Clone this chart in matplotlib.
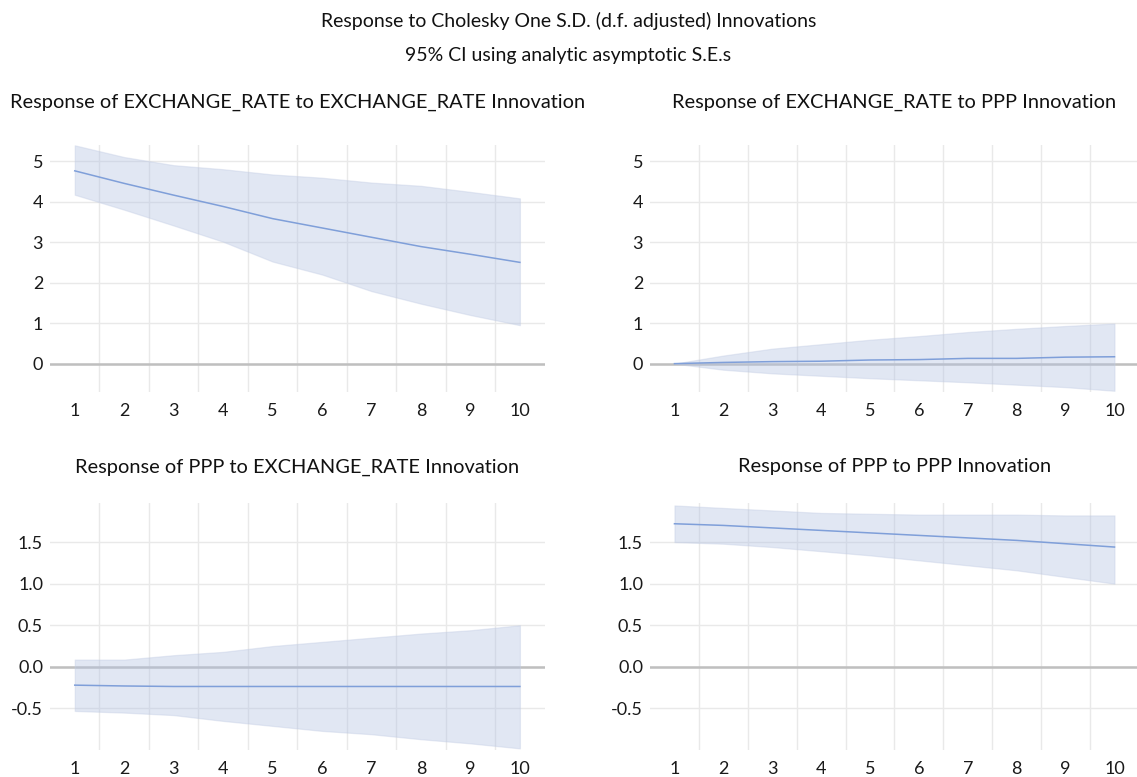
import matplotlib
matplotlib.use("Agg")
import matplotlib.pyplot as plt

plt.rcParams['font.family'] = ['Lato', 'DejaVu Sans']

# periods
periods = [1, 2, 3, 4, 5, 6, 7, 8, 9, 10]

# EXCHANGE_RATE to EXCHANGE_RATE
er_er = [4.76, 4.45, 4.16, 3.88, 3.58, 3.35, 3.12, 2.89, 2.70, 2.50]
er_er_hi = [5.39, 5.10, 4.90, 4.80, 4.67, 4.59, 4.47, 4.39, 4.24, 4.08]
er_er_lo = [4.17, 3.80, 3.41, 3.01, 2.52, 2.20, 1.79, 1.48, 1.20, 0.95]

# EXCHANGE_RATE to PPP
er_ppp = [0.0, 0.03, 0.05, 0.06, 0.09, 0.10, 0.13, 0.13, 0.16, 0.17]
er_ppp_hi = [0.0, 0.20, 0.37, 0.48, 0.59, 0.68, 0.78, 0.86, 0.93, 0.99]
er_ppp_lo = [0.0, -0.15, -0.24, -0.30, -0.36, -0.41, -0.46, -0.52, -0.58, -0.67]

# PPP to EXCHANGE_RATE
ppp_er = [-0.22, -0.23, -0.236, -0.236, -0.236, -0.236, -0.236, -0.236, -0.236, -0.236]
ppp_er_hi = [0.087, 0.087, 0.14, 0.18, 0.25, 0.30, 0.35, 0.40, 0.44, 0.50]
ppp_er_lo = [-0.53, -0.55, -0.58, -0.65, -0.71, -0.77, -0.81, -0.87, -0.92, -0.98]

# PPP to PPP
ppp_ppp = [1.72, 1.70, 1.67, 1.64, 1.61, 1.58, 1.55, 1.52, 1.48, 1.44]
ppp_ppp_hi = [1.94, 1.91, 1.88, 1.85, 1.84, 1.83, 1.83, 1.83, 1.82, 1.82]
ppp_ppp_lo = [1.50, 1.48, 1.44, 1.39, 1.34, 1.28, 1.22, 1.16, 1.08, 1.00]

top_ticks = [0, 1, 2, 3, 4, 5]
top_labels = ['0', '1', '2', '3', '4', '5']
bot_ticks = [-0.5, 0.0, 0.5, 1.0, 1.5]
bot_labels = ['-0.5', '0.0', '0.5', '1.0', '1.5']

fig = plt.figure(figsize=(11.37, 7.77), dpi=100)

fig.text(0.5, 0.973, 'Response to Cholesky One S.D. (d.f. adjusted) Innovations',
         ha='center', va='center', fontsize=14, color='#111111')
fig.text(0.5, 0.929, '95% CI using analytic asymptotic S.E.s',
         ha='center', va='center', fontsize=14, color='#111111')

# rect, title, data, ticks, limits, title pad
panels = [
    ([0.044, 0.4955, 0.435, 0.318], 'Response of EXCHANGE_RATE to EXCHANGE_RATE Innovation',
     er_er, er_er_hi, er_er_lo, top_ticks, top_labels, (-0.7, 5.4), 27),
    ([0.5717, 0.4955, 0.43, 0.318], 'Response of EXCHANGE_RATE to PPP Innovation',
     er_ppp, er_ppp_hi, er_ppp_lo, top_ticks, top_labels, (-0.7, 5.4), 27),
    ([0.044, 0.0347, 0.435, 0.318], 'Response of PPP to EXCHANGE_RATE Innovation',
     ppp_er, ppp_er_hi, ppp_er_lo, bot_ticks, bot_labels, (-1.0, 1.97), 22),
    ([0.5717, 0.0347, 0.43, 0.318], 'Response of PPP to PPP Innovation',
     ppp_ppp, ppp_ppp_hi, ppp_ppp_lo, bot_ticks, bot_labels, (-1.0, 1.97), 22),
]

for rect, title, resp, hi, lo, yt, yl, ylim, tpad in panels:
    ax = fig.add_axes(rect)
    ax.fill_between(periods, lo, hi, facecolor='#b4c3e3', alpha=0.4,
                    edgecolor='#c3cde4', linewidth=0.9, zorder=3)
    ax.plot(periods, resp, color='#7f9fd9', linewidth=1.1, zorder=4)
    ax.axhline(0, color='#bfbfbf', linewidth=1.8, zorder=2)

    ax.set_xlim(0.5, 10.5)
    ax.set_ylim(*ylim)
    ax.set_xticks(periods)
    ax.set_xticks([p + 0.5 for p in periods[:-1]], minor=True)
    ax.set_yticks(yt)
    ax.set_yticklabels(yl)

    ax.grid(True, axis='y', which='major', color='#e9e9e9', linewidth=1.0, zorder=0)
    ax.grid(True, axis='x', which='minor', color='#e9e9e9', linewidth=1.0, zorder=0)
    ax.grid(False, axis='x', which='major')
    ax.set_axisbelow(True)

    for s in ax.spines.values():
        s.set_visible(False)
    ax.tick_params(which='both', length=0, labelsize=13, colors='#1a1a1a')
    ax.tick_params(axis='y', pad=5)
    ax.tick_params(axis='x', pad=8)
    ax.set_title(title, fontsize=14.4, color='#111111', pad=tpad)

fig.savefig('out.png', dpi=100)
